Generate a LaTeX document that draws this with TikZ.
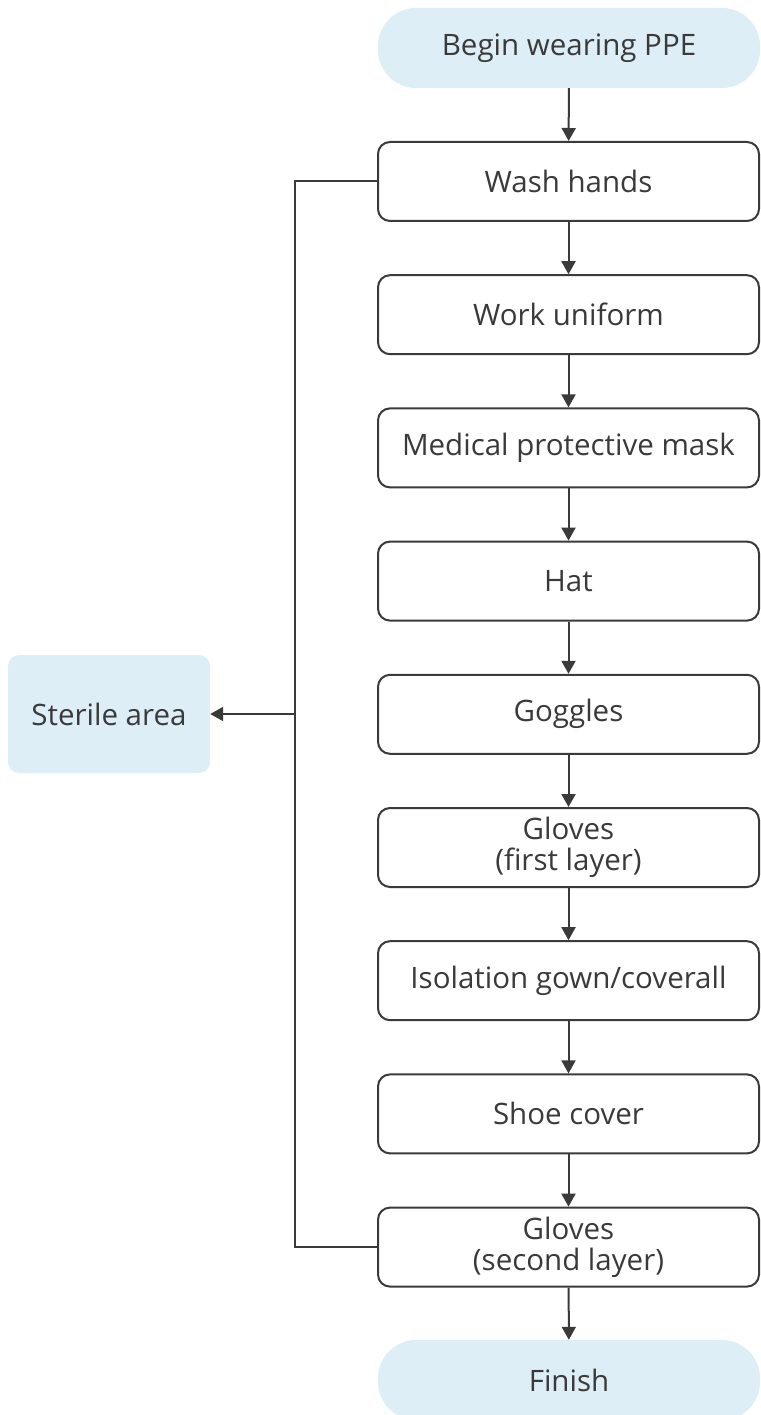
\documentclass[tikz,border=0pt]{standalone}
\usepackage{fontspec}
\setmainfont{Open Sans}
\usetikzlibrary{arrows.meta}
\definecolor{ink}{HTML}{3A3A3A}
\definecolor{pale}{HTML}{DDEEF6}
\tikzset{
  stepbox/.style={draw=ink, line width=2pt, rounded corners=12pt, fill=white,
    minimum width=381pt, minimum height=79pt, align=center, text=ink,
    font=\fontsize{29.5}{31}\selectfont, inner sep=0pt},
  termbox/.style={fill=pale, rounded corners=38pt, minimum width=382pt, minimum height=80pt,
    text=ink, font=\fontsize{29.5}{31}\selectfont, inner sep=0pt},
  areabox/.style={fill=pale, rounded corners=11pt, minimum width=202pt, minimum height=118pt,
    text=ink, font=\fontsize{29.5}{31}\selectfont, inner sep=0pt},
  flow/.style={draw=ink, line width=2pt, -{Triangle[length=13pt,width=14pt]}},
  link/.style={draw=ink, line width=2pt}
}
\begin{document}
\begin{tikzpicture}[x=1pt,y=-1pt]
\useasboundingbox (0,0) rectangle (760,1415);
\node[termbox] (begin) at (569,48) {Begin wearing PPE};
\node[stepbox] (s1) at (568.5,181.5) {Wash hands};
\node[stepbox] (s2) at (568.5,314.7) {Work uniform};
\node[stepbox] (s3) at (568.5,447.9) {Medical protective mask};
\node[stepbox] (s4) at (568.5,581.1) {Hat};
\node[stepbox] (s5) at (568.5,714.3) {Goggles};
\node[stepbox] (s6) at (568.5,847.5) {Gloves\\(first layer)};
\node[stepbox] (s7) at (568.5,980.7) {Isolation gown/coverall};
\node[stepbox] (s8) at (568.5,1113.9) {Shoe cover};
\node[stepbox] (s9) at (568.5,1247.1) {Gloves\\(second layer)};
\node[termbox] (finish) at (569,1380) {Finish};
\node[areabox] (sterile) at (109,714) {Sterile area};
\coordinate (top) at (295,181.5);
\coordinate (bot) at (295,1247.1);
\coordinate (mid) at (295,714);
\draw[flow] (begin) -- (s1);
\draw[flow] (s1) -- (s2);
\draw[flow] (s2) -- (s3);
\draw[flow] (s3) -- (s4);
\draw[flow] (s4) -- (s5);
\draw[flow] (s5) -- (s6);
\draw[flow] (s6) -- (s7);
\draw[flow] (s7) -- (s8);
\draw[flow] (s8) -- (s9);
\draw[flow] (s9) -- (finish);
\draw[link] (s1.west) -- (top) -- (bot) -- (s9.west);
\draw[flow] (mid) -- (sterile.east);
\end{tikzpicture}
\end{document}
